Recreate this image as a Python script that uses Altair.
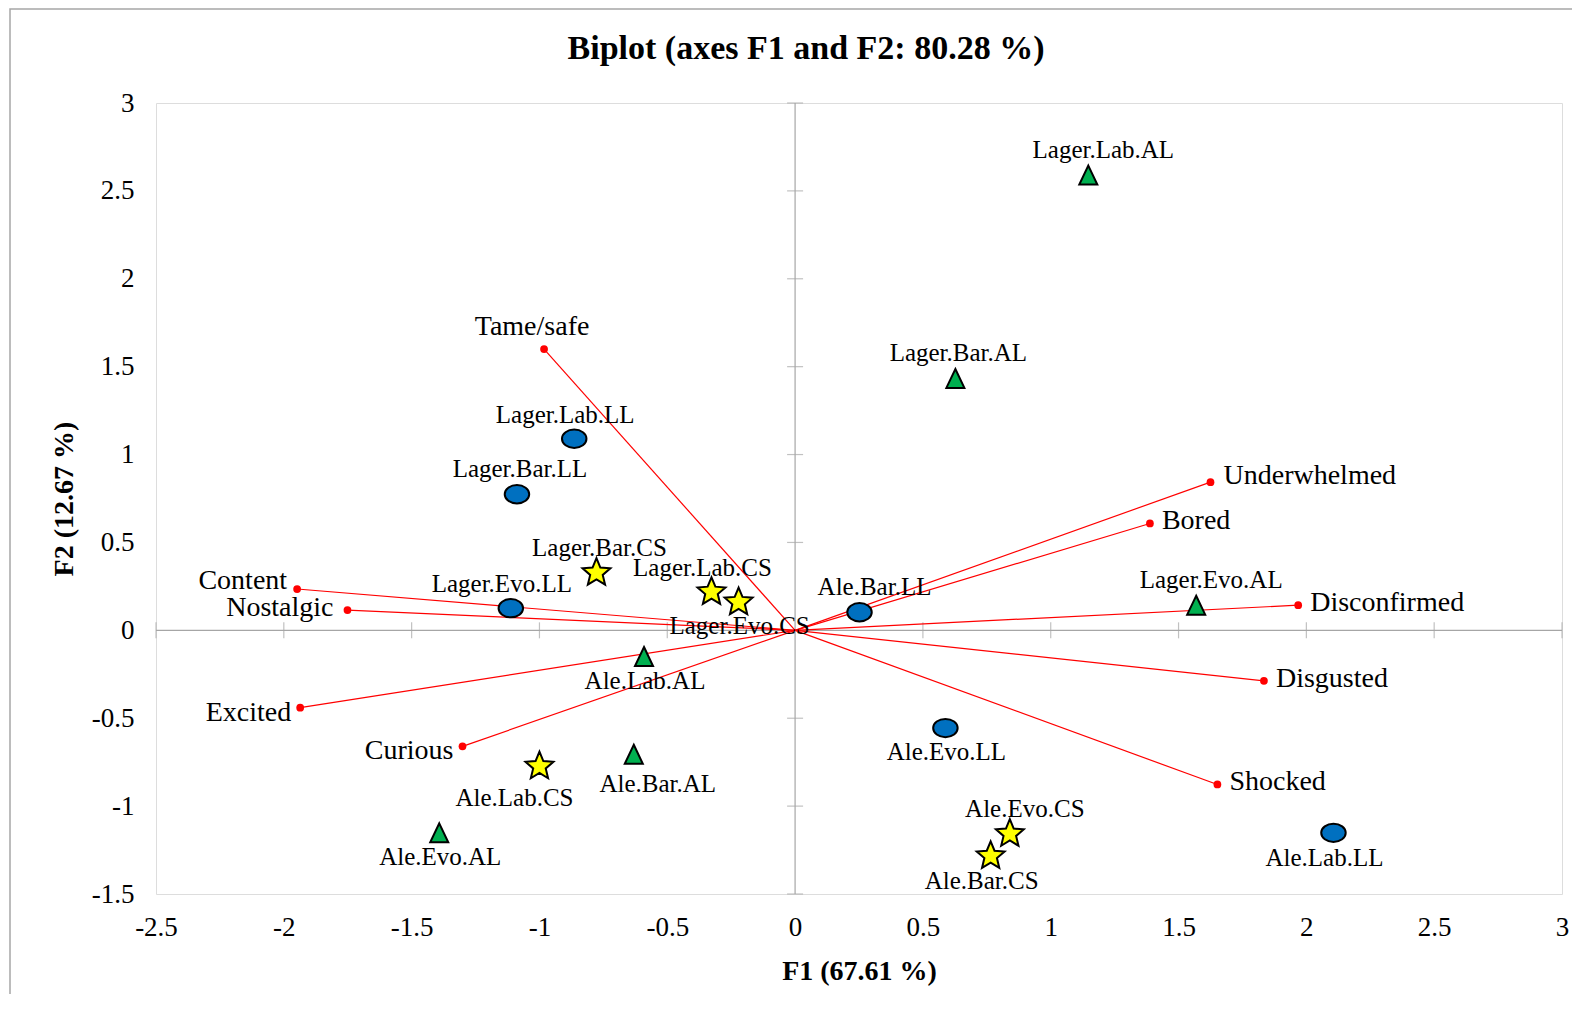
import math
import altair as alt
import pandas as pd

# ---------------- data ----------------
obs_names = ["Lager.Lab.AL", "Lager.Bar.AL", "Lager.Lab.LL", "Lager.Bar.LL", "Lager.Bar.CS",
             "Lager.Lab.CS", "Lager.Evo.CS", "Lager.Evo.LL", "Ale.Bar.LL", "Lager.Evo.AL",
             "Ale.Lab.AL", "Ale.Evo.LL", "Ale.Bar.AL", "Ale.Lab.CS", "Ale.Evo.CS",
             "Ale.Bar.CS", "Ale.Lab.LL", "Ale.Evo.AL"]
obs_f1 = [1.147, 0.627, -0.864, -1.088, -0.777, -0.327, -0.221, -1.112, 0.252, 1.569,
          -0.591, 0.588, -0.631, -1.000, 0.840, 0.765, 2.106, -1.392]
obs_f2 = [2.590, 1.433, 1.090, 0.774, 0.327, 0.218, 0.160, 0.126, 0.103, 0.143,
          -0.149, -0.556, -0.705, -0.774, -1.158, -1.284, -1.152, -1.152]
obs_place = ["NE", "N", "NW", "N", "N", "NW", "S", "NW", "NE", "NE",
             "S", "S", "SE", "SW", "NE", "Sw", "Sw", "S"]

var_names = ["Tame/safe", "Underwhelmed", "Bored", "Disconfirmed", "Content",
             "Nostalgic", "Excited", "Curious", "Disgusted", "Shocked"]
var_f1 = [-0.982, 1.625, 1.388, 1.968, -1.948, -1.751, -1.936, -1.301, 1.834, 1.652]
var_f2 = [1.600, 0.843, 0.608, 0.143, 0.235, 0.115, -0.440, -0.660, -0.287, -0.877]
var_place = ["top", "rightup", "right", "right", "leftup", "left", "leftdown", "leftdown",
             "right", "right"]

x_ticks = [-2.5, -2, -1.5, -1, -0.5, 0, 0.5, 1, 1.5, 2, 2.5, 3]
y_ticks = [-1.5, -1, -0.5, 0, 0.5, 1, 1.5, 2, 2.5, 3]

df_obs = pd.DataFrame({"name": obs_names, "f1": obs_f1, "f2": obs_f2, "place": obs_place})
df_obs["group"] = [n.split(".")[-1] for n in obs_names]
df_var = pd.DataFrame({"name": var_names, "f1": var_f1, "f2": var_f2, "place": var_place})
df_xt = pd.DataFrame({"f1": [v for v in x_ticks if v != 0]})
df_yt = pd.DataFrame({"f2": [v for v in y_ticks if v != 0]})

FONT = "Liberation Serif"
W, H = 1406, 791

# ---------------- shapes ----------------
ellipse = "M -1 0 A 1 0.75 0 1 1 1 0 A 1 0.75 0 1 1 -1 0 Z"
triangle = "M 0 -1 L 0.95 1 L -0.95 1 Z"
pts = []
for i in range(10):
    r = 1.0 if i % 2 == 0 else 0.45
    a = -math.pi / 2 + i * math.pi / 5
    pts.append(f"{r * math.cos(a):.3f} {r * math.sin(a):.3f}")
star = "M " + " L ".join(pts) + " Z"

styles = {
    "LL": dict(shape=ellipse, fill="#0070C0", size=600),
    "AL": dict(shape=triangle, fill="#00B050", size=360),
    "CS": dict(shape=star, fill="#FFFF00", size=860),
}

xsc = alt.Scale(domain=[-2.5, 3], nice=False, zero=False)
ysc = alt.Scale(domain=[-1.5, 3], nice=False, zero=False)
xax = alt.Axis(values=x_ticks, labelExpr="datum.value + ''", ticks=False, grid=False, domain=False,
               labelFontSize=27, labelFont=FONT, labelColor="#000", labelPadding=20,
               title="F1 (67.61 %)", titleFont=FONT, titleFontSize=28, titleFontWeight="bold",
               titleColor="#000", titlePadding=17, labelFlush=False)
yax = alt.Axis(values=y_ticks, labelExpr="datum.value + ''", ticks=False, grid=False, domain=False,
               labelFontSize=27, labelFont=FONT, labelColor="#000", labelPadding=22,
               title="F2 (12.67 %)", titleFont=FONT, titleFontSize=28, titleFontWeight="bold",
               titleColor="#000", titlePadding=13, labelFlush=False)

X = alt.X("f1:Q", scale=xsc, axis=xax)
Y = alt.Y("f2:Q", scale=ysc, axis=yax)

layers = []

# outer chart-area frame (decoration)
frame = alt.Chart(pd.DataFrame({"a": [0]})).mark_rect(
    fill="transparent", stroke="#A6A6A6", strokeWidth=1.5, clip=False
).encode(x=alt.value(-146), x2=alt.value(W + 60), y=alt.value(-94), y2=alt.value(H + 140))
layers.append(frame)

# zero lines
layers.append(alt.Chart(pd.DataFrame({"a": [0]})).mark_rule(color="#A6A6A6", strokeWidth=1.2)
              .encode(x=alt.datum(0, scale=xsc)))
layers.append(alt.Chart(pd.DataFrame({"a": [0]})).mark_rule(color="#A6A6A6", strokeWidth=1.2)
              .encode(y=alt.datum(0, scale=ysc)))

# cross ticks on the zero lines
layers.append(alt.Chart(df_xt).mark_tick(orient="vertical", color="#A6A6A6", size=16, thickness=1.2)
              .encode(x=X, y=alt.datum(0, scale=ysc)))
layers.append(alt.Chart(df_yt).mark_tick(orient="horizontal", color="#A6A6A6", size=16, thickness=1.2)
              .encode(y=Y, x=alt.datum(0, scale=xsc)))

# vectors
vec = alt.Chart(df_var).transform_calculate(x0="0", y0="0")
layers.append(vec.mark_rule(color="#FF0000", strokeWidth=1.2).encode(
    x=X, y=Y, x2="x0:Q", y2="y0:Q"))
layers.append(vec.mark_point(filled=True, color="#FF0000", size=60, opacity=1, shape="circle")
              .encode(x=X, y=Y))

# observation markers
for g, st in styles.items():
    layers.append(
        alt.Chart(df_obs).transform_filter(alt.datum.group == g)
        .mark_point(shape=st["shape"], filled=True, fill=st["fill"], stroke="#000000",
                    strokeWidth=2, size=st["size"], opacity=1)
        .encode(x=X, y=Y)
    )

# observation labels
obs_off = {"N": (3, -25, "center"), "NE": (15, -25, "center"), "NW": (-9, -24, "center"),
           "S": (1, 24, "center"), "SE": (24, 30, "center"), "SW": (-25, 32, "center"),
           "Sw": (-9, 25, "center")}
for p, (dx, dy, al) in obs_off.items():
    layers.append(
        alt.Chart(df_obs).transform_filter(alt.datum.place == p)
        .mark_text(font=FONT, fontSize=25, color="#000", dx=dx, dy=dy, align=al, baseline="middle")
        .encode(x=X, y=Y, text="name:N")
    )

# variable labels
var_off = {"top": (-12, -22, "center"), "right": (12, -2, "left"), "rightup": (13, -6, "left"),
           "left": (-14, -2, "right"), "leftup": (-10, -8, "right"), "leftdown": (-9, 5, "right")}
for p, (dx, dy, al) in var_off.items():
    layers.append(
        alt.Chart(df_var).transform_filter(alt.datum.place == p)
        .mark_text(font=FONT, fontSize=28, color="#000", dx=dx, dy=dy, align=al, baseline="middle")
        .encode(x=X, y=Y, text="name:N")
    )

chart = alt.layer(*layers).properties(
    width=W, height=H,
    title=alt.TitleParams("Biplot (axes F1 and F2: 80.28 %)", font=FONT, fontSize=34,
                          fontWeight="bold", color="#000", offset=-75, anchor="middle",
                          baseline="middle", frame="group", dx=-53),
    autosize=alt.AutoSizeParams(type="none"),
    padding={"left": 148, "top": 95, "right": 10, "bottom": 100},
).configure_view(stroke="#A6A6A6", strokeWidth=1.5).configure(background="white")

chart.save("out.html", embed_options={"renderer": "svg", "actions": False})
